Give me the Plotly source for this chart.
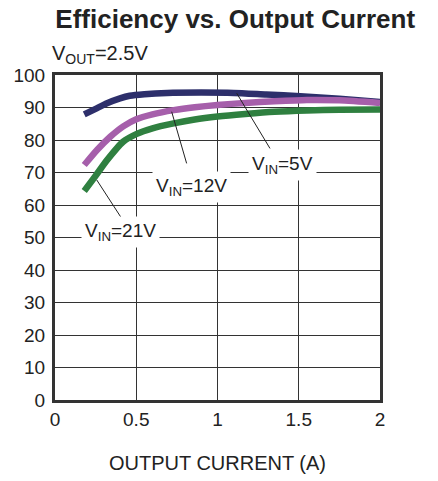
import plotly.graph_objects as go

# Output current (A) and efficiency (%)
i_5v = [0.18, 0.25, 0.32, 0.40, 0.46, 0.55, 0.69, 0.90, 1.10, 1.30, 1.51, 1.75, 2.00]
eff_5v = [87.9, 89.6, 91.3, 92.8, 93.6, 94.1, 94.5, 94.6, 94.5, 94.0, 93.5, 92.7, 91.7]

i_12v = [0.18, 0.26, 0.34, 0.42, 0.50, 0.60, 0.73, 0.86, 1.00, 1.17, 1.35, 1.55, 1.75, 2.00]
eff_12v = [72.3, 77.0, 81.0, 84.2, 86.4, 87.9, 89.2, 90.1, 90.8, 91.4, 91.9, 92.3, 92.2, 91.4]

i_21v = [0.18, 0.25, 0.32, 0.42, 0.50, 0.60, 0.73, 0.86, 1.00, 1.17, 1.35, 1.55, 1.75, 2.00]
eff_21v = [64.3, 69.0, 73.8, 79.5, 81.8, 83.6, 85.1, 86.3, 87.2, 88.0, 88.7, 89.1, 89.3, 89.4]

x_ticks = [0, 0.5, 1, 1.5, 2]
x_tick_labels = ["0", "0.5", "1", "1.5", "2"]
y_ticks = [0, 10, 20, 30, 40, 50, 60, 70, 80, 90, 100]

series = [
    ("V<sub>IN</sub>=5V", i_5v, eff_5v, "#2d2f6b"),
    ("V<sub>IN</sub>=12V", i_12v, eff_12v, "#a65fab"),
    ("V<sub>IN</sub>=21V", i_21v, eff_21v, "#2f8040"),
]

# label text, label position, pointer from (curve) -> to (label)
labels = [
    ("V<sub>IN</sub>=5V", 1.40, 72.3, (1.118, 94.4), (1.323, 77.4)),
    ("V<sub>IN</sub>=12V", 0.84, 65.5, (0.718, 88.7), (0.810, 72.8)),
    ("V<sub>IN</sub>=21V", 0.40, 51.7, (0.257, 67.7), (0.410, 55.9)),
]

FONT = "Liberation Sans, Arial, sans-serif"

fig = go.Figure()
for name, x, y, c in series:
    fig.add_trace(go.Scatter(x=x, y=y, mode="lines", name=name,
                             line=dict(color=c, width=6.5, shape="spline", smoothing=0.6),
                             showlegend=False, hoverinfo="skip"))

shapes = []
annotations = []
for text, lx, ly, p0, p1 in labels:
    shapes.append(dict(type="line", xref="x", yref="y", x0=p0[0], y0=p0[1], x1=p1[0], y1=p1[1],
                       line=dict(color="#222222", width=1)))
    annotations.append(dict(x=lx, y=ly, xref="x", yref="y", text=text, showarrow=False,
                            bgcolor="white", borderpad=3,
                            font=dict(family=FONT, size=19, color="#222222")))

annotations.append(dict(xref="paper", yref="paper", x=-0.015, y=1.02, xanchor="left", yanchor="bottom",
                        text="V<sub>OUT</sub>=2.5V", showarrow=False,
                        font=dict(family=FONT, size=20, color="#222222")))

fig.update_layout(
    width=438, height=481,
    margin=dict(l=55, r=58, t=75, b=81, autoexpand=False),
    paper_bgcolor="white", plot_bgcolor="white",
    title=dict(text="<b>Efficiency vs. Output Current</b>", x=0.537, xanchor="center",
               y=0.96, yanchor="middle",
               font=dict(family=FONT, size=26, color="#222222")),
    shapes=shapes, annotations=annotations,
    font=dict(family=FONT, color="#222222"),
)
fig.update_xaxes(range=[0, 2], tickvals=x_ticks, ticktext=x_tick_labels,
                 showgrid=True, gridcolor="#333333", gridwidth=1.3,
                 showline=True, mirror=True, linecolor="#333333", linewidth=3,
                 ticks="", ticklabelstandoff=0, zeroline=False, automargin=False,
                 tickfont=dict(family=FONT, size=19, color="#222222"),
                 title=dict(text="OUTPUT CURRENT (A)", standoff=28,
                            font=dict(family=FONT, size=20, color="#222222")))
fig.update_yaxes(range=[0, 100], tickvals=y_ticks,
                 showgrid=True, gridcolor="#333333", gridwidth=1.3,
                 showline=True, mirror=True, linecolor="#333333", linewidth=3,
                 ticks="", ticklabelstandoff=3, zeroline=False, automargin=False,
                 tickfont=dict(family=FONT, size=19, color="#222222"))

fig.write_html("out.html", config={"displayModeBar": False},
               post_script="document.body.style.margin='0px';")
